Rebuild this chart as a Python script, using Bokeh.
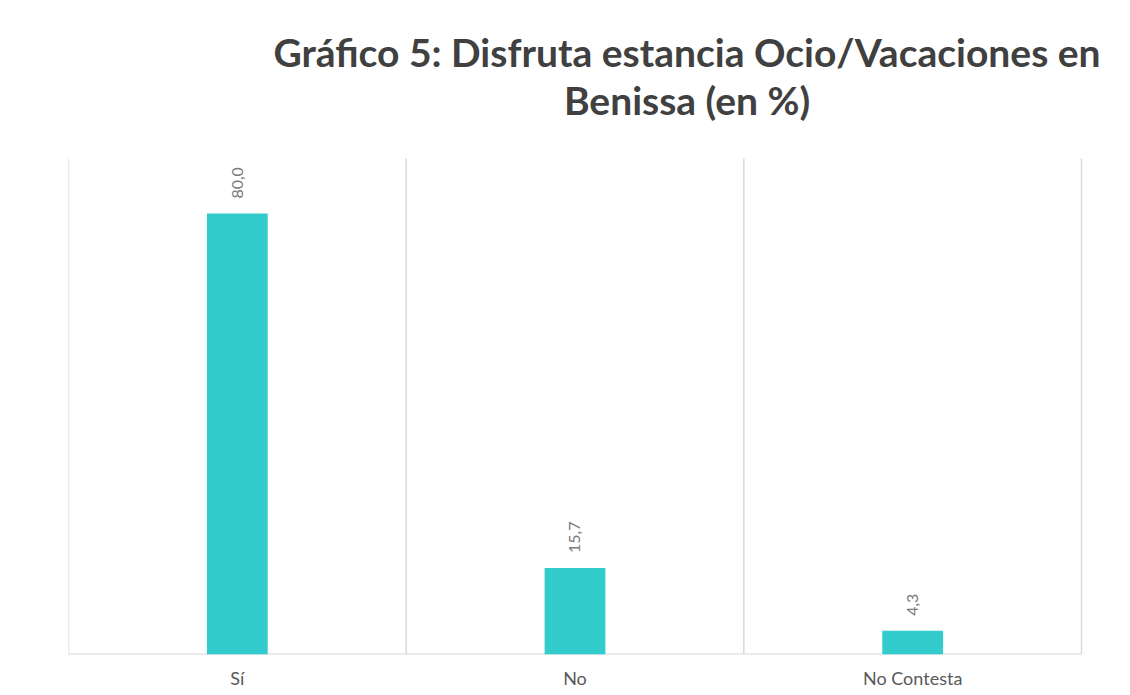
import numpy as np
from bokeh.plotting import figure
from bokeh.models import ColumnDataSource, LabelSet, FixedTicker, Range1d
from bokeh.core.properties import value
from bokeh.embed import file_html
from bokeh.resources import INLINE

categories = ["Sí", "No", "No Contesta"]
values = [80.0, 15.7, 4.3]
title_lines = ["Gráfico 5: Disfruta estancia Ocio/Vacaciones en", "Benissa (en %)"]

Y_MAX = 90          # value axis maximum (top of the category area)
n = len(categories)
xs = (np.arange(n) + 0.5).tolist()
labels = [f"{v:.1f}".replace(".", ",") for v in values]
src = ColumnDataSource(dict(x=xs, top=values, label=labels))

W, H = 1114, 695
LEFT, TOP, BOTTOM = 68, 8, 41            # frame margins in px
frame_h = H - TOP - BOTTOM               # px
area_h = 496                             # px used by 0..Y_MAX
area_w = 1013                            # px used by the categories
y_end = Y_MAX * frame_h / area_h
x_end = n * (W - LEFT) / area_w

p = figure(width=W, height=H, output_backend="svg", toolbar_location=None,
           x_range=Range1d(0, x_end), y_range=Range1d(0, y_end),
           min_border_left=LEFT, min_border_right=0, min_border_top=TOP,
           min_border_bottom=BOTTOM, outline_line_color=None)

# category separators (vertical grid) limited to the value area
bounds = list(range(n + 1))
p.segment(x0=bounds, y0=[0] * len(bounds), x1=bounds, y1=[Y_MAX] * len(bounds),
          line_color="#d9d9d9", line_width=1.5)
# category axis line
p.segment(x0=[0], y0=[0], x1=[n], y1=[0], line_color="#d9d9d9", line_width=2)

p.vbar(x="x", top="top", width=0.18, bottom=0, source=src,
       fill_color="#33CCCC", line_color=None)

p.add_layout(LabelSet(x="x", y="top", text="label", source=src,
                      angle=90, angle_units="deg", text_align="left",
                      text_baseline="middle", y_offset=15,
                      text_font=value("Lato"), text_font_size="16px",
                      text_color="#7a7a7a"))

# title (two centred lines) placed in the upper part of the frame
px_per_unit = area_h / Y_MAX
title_y = [(654 - 51) / px_per_unit, (654 - 99) / px_per_unit]
title_x = (686.5 - LEFT) / (area_w / n)
p.text(x=[title_x] * 2, y=title_y, text=title_lines,
       text_align="center", text_baseline="alphabetic",
       text_font=value("Lato"), text_font_style="bold",
       text_font_size="39px", text_color="#404040")

p.yaxis.visible = False
p.ygrid.grid_line_color = None
p.xgrid.grid_line_color = None

p.xaxis.ticker = FixedTicker(ticks=xs)
p.xaxis.major_label_overrides = {x: c for x, c in zip(xs, categories)}
p.xaxis.axis_line_color = None
p.xaxis.major_tick_line_color = None
p.xaxis.minor_tick_line_color = None
p.xaxis.major_tick_out = 0
p.xaxis.major_label_standoff = 12
p.xaxis.major_label_text_font = "Lato"
p.xaxis.major_label_text_font_size = "18px"
p.xaxis.major_label_text_color = "#595959"

open("out.html", "w").write(file_html(p, INLINE))
